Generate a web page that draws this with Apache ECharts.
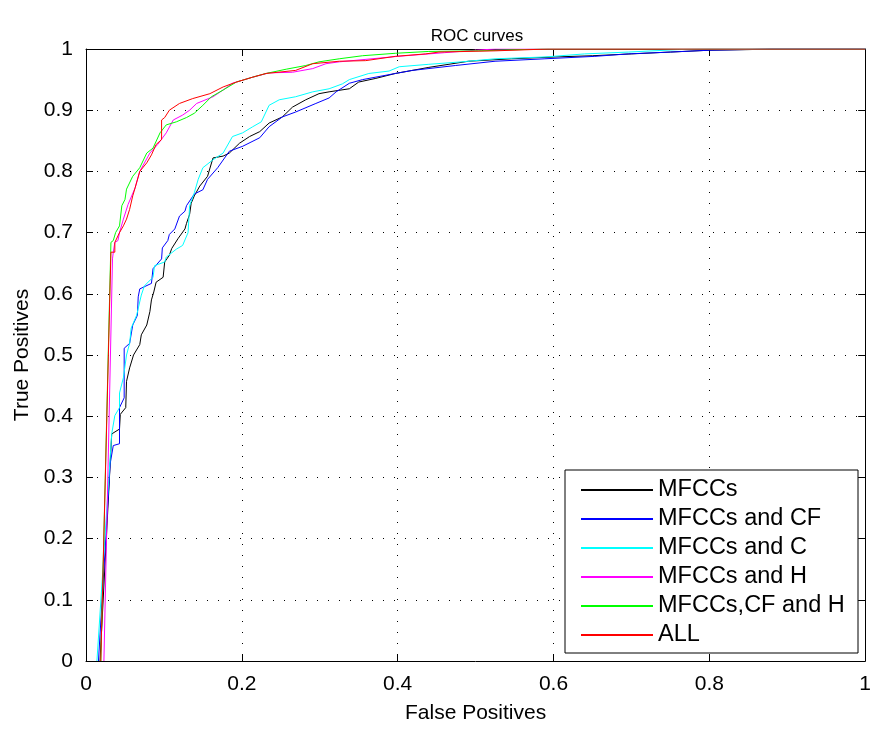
<!DOCTYPE html>
<html>
<head>
<meta charset="utf-8">
<script src="https://cdn.jsdelivr.net/npm/echarts@6/dist/echarts.min.js"></script>
<style>
html,body{margin:0;padding:0;background:#fff;}
#chart{width:874px;height:729px;}
</style>
</head>
<body>
<div id="chart"></div>
<script>
// ---- data ----
const seriesNames = ['MFCCs', 'MFCCs and CF', 'MFCCs and C', 'MFCCs and H', 'MFCCs,CF and H', 'ALL'];
const xTickLabels = ['0', '0.2', '0.4', '0.6', '0.8', '1'];
const yTickLabels = ['0', '0.1', '0.2', '0.3', '0.4', '0.5', '0.6', '0.7', '0.8', '0.9', '1'];

const mfccsFP = [0.018, 0.033, 0.043, 0.044, 0.051, 0.052, 0.056, 0.061, 0.069, 0.071, 0.078, 0.082, 0.084, 0.087, 0.090, 0.099, 0.101, 0.107, 0.110, 0.118, 0.127, 0.129, 0.133, 0.135, 0.139, 0.146, 0.156, 0.163, 0.176, 0.184, 0.197, 0.210, 0.223, 0.235, 0.252, 0.265, 0.282, 0.299, 0.312, 0.338, 0.350, 0.372, 0.397, 0.440, 0.491, 0.546, 0.602, 0.650, 0.700, 0.750, 0.800, 0.850, 0.880, 1.000];
const mfccsTP = [0.000, 0.371, 0.379, 0.403, 0.414, 0.457, 0.479, 0.500, 0.517, 0.533, 0.549, 0.571, 0.590, 0.603, 0.619, 0.627, 0.652, 0.663, 0.674, 0.690, 0.706, 0.715, 0.730, 0.748, 0.760, 0.776, 0.792, 0.822, 0.825, 0.830, 0.846, 0.857, 0.865, 0.879, 0.889, 0.905, 0.917, 0.927, 0.930, 0.935, 0.946, 0.952, 0.960, 0.970, 0.980, 0.984, 0.987, 0.989, 0.992, 0.995, 0.998, 0.999, 1.000, 1.000];

const mfccsCfFP = [0.016, 0.031, 0.035, 0.043, 0.043, 0.049, 0.049, 0.056, 0.060, 0.066, 0.067, 0.069, 0.084, 0.086, 0.097, 0.098, 0.105, 0.107, 0.114, 0.120, 0.127, 0.129, 0.139, 0.150, 0.156, 0.169, 0.184, 0.201, 0.223, 0.235, 0.252, 0.269, 0.295, 0.312, 0.321, 0.338, 0.355, 0.397, 0.419, 0.474, 0.525, 0.589, 0.653, 0.696, 0.750, 0.800, 0.880, 1.000];
const mfccsCfTP = [0.000, 0.322, 0.352, 0.355, 0.414, 0.430, 0.511, 0.519, 0.549, 0.565, 0.595, 0.608, 0.617, 0.641, 0.657, 0.675, 0.687, 0.697, 0.706, 0.727, 0.735, 0.744, 0.763, 0.770, 0.787, 0.806, 0.833, 0.841, 0.855, 0.873, 0.889, 0.897, 0.911, 0.920, 0.930, 0.944, 0.950, 0.960, 0.965, 0.973, 0.980, 0.984, 0.988, 0.992, 0.995, 0.998, 1.000, 1.000];

const mfccsCFP = [0.014, 0.033, 0.037, 0.043, 0.043, 0.048, 0.052, 0.056, 0.058, 0.065, 0.071, 0.075, 0.086, 0.088, 0.090, 0.101, 0.103, 0.116, 0.124, 0.131, 0.133, 0.139, 0.144, 0.150, 0.163, 0.176, 0.188, 0.201, 0.214, 0.225, 0.235, 0.248, 0.269, 0.291, 0.312, 0.329, 0.338, 0.363, 0.389, 0.402, 0.440, 0.482, 0.525, 0.589, 0.640, 0.696, 0.760, 0.800, 1.000];
const mfccsCTP = [0.000, 0.371, 0.401, 0.414, 0.438, 0.463, 0.500, 0.519, 0.544, 0.565, 0.598, 0.613, 0.627, 0.646, 0.649, 0.652, 0.660, 0.673, 0.679, 0.700, 0.744, 0.765, 0.787, 0.806, 0.819, 0.830, 0.857, 0.863, 0.873, 0.881, 0.908, 0.917, 0.922, 0.930, 0.935, 0.943, 0.950, 0.960, 0.964, 0.971, 0.975, 0.979, 0.984, 0.987, 0.992, 0.995, 0.999, 1.000, 1.000];

const mfccsHFP = [0.023, 0.034, 0.035, 0.037, 0.041, 0.043, 0.048, 0.054, 0.063, 0.069, 0.082, 0.092, 0.103, 0.112, 0.124, 0.133, 0.142, 0.163, 0.176, 0.188, 0.214, 0.235, 0.265, 0.291, 0.308, 0.325, 0.400, 0.460, 0.500, 0.525, 1.000];
const mfccsHTP = [0.000, 0.657, 0.668, 0.684, 0.687, 0.700, 0.722, 0.746, 0.773, 0.800, 0.830, 0.844, 0.863, 0.884, 0.892, 0.900, 0.911, 0.922, 0.933, 0.944, 0.954, 0.961, 0.962, 0.968, 0.976, 0.979, 0.988, 0.994, 0.998, 1.000, 1.000];

const mfccsCfHFP = [0.019, 0.032, 0.035, 0.038, 0.043, 0.046, 0.050, 0.052, 0.060, 0.069, 0.078, 0.086, 0.095, 0.103, 0.116, 0.129, 0.139, 0.150, 0.161, 0.176, 0.193, 0.214, 0.231, 0.257, 0.282, 0.299, 0.325, 0.355, 0.397, 0.440, 0.504, 0.585, 1.000];
const mfccsCfHTP = [0.000, 0.684, 0.687, 0.700, 0.711, 0.744, 0.754, 0.771, 0.792, 0.806, 0.830, 0.838, 0.863, 0.876, 0.881, 0.888, 0.895, 0.908, 0.922, 0.933, 0.946, 0.954, 0.960, 0.967, 0.973, 0.979, 0.984, 0.989, 0.993, 0.996, 0.997, 1.000, 1.000];

const allFP = [0.019, 0.032, 0.037, 0.037, 0.043, 0.048, 0.052, 0.056, 0.060, 0.063, 0.069, 0.078, 0.084, 0.090, 0.097, 0.097, 0.101, 0.107, 0.120, 0.137, 0.159, 0.176, 0.193, 0.214, 0.231, 0.269, 0.291, 0.325, 0.359, 0.397, 0.436, 0.453, 0.525, 0.593, 1.000];
const allTP = [0.000, 0.668, 0.668, 0.684, 0.700, 0.711, 0.722, 0.738, 0.760, 0.773, 0.800, 0.814, 0.827, 0.844, 0.852, 0.884, 0.888, 0.900, 0.911, 0.919, 0.927, 0.938, 0.946, 0.954, 0.960, 0.965, 0.976, 0.980, 0.981, 0.988, 0.992, 0.995, 0.997, 1.000, 1.000];

const seriesColors = ['#000000', '#0000ff', '#00ffff', '#ff00ff', '#00ff00', '#ff0000'];
// ------------------------------------------------

const FONT = '"Liberation Sans", Arial, Helvetica, sans-serif';
const pairs = (xs, ys) => xs.map((x, i) => [x, ys[i]]);
const allData = [
  pairs(mfccsFP, mfccsTP),
  pairs(mfccsCfFP, mfccsCfTP),
  pairs(mfccsCFP, mfccsCTP),
  pairs(mfccsHFP, mfccsHTP),
  pairs(mfccsCfHFP, mfccsCfHTP),
  pairs(allFP, allTP)
];

const chart = echarts.init(document.getElementById('chart'), null, {renderer: 'canvas'});

const gridLine = {show: true, lineStyle: {color: '#000', width: 1, type: [1, 10]}};
const axisLine = {show: true, onZero: false, lineStyle: {color: '#000', width: 1}};
const tick = {show: true, inside: true, length: 7, lineStyle: {color: '#000', width: 1}};

const option = {
  animation: false,
  backgroundColor: '#fff',
  title: {
    text: 'ROC curves',
    left: 477,
    top: 28,
    padding: 0,
    textAlign: 'center',
    textStyle: {fontFamily: FONT, fontSize: 17, fontWeight: 'normal', color: '#000'}
  },
  grid: {left: 86, right: 6, top: 49, bottom: 64, containLabel: false},
  legend: {
    orient: 'vertical',
    left: 565,
    top: 470,
    padding: [8, 13, 6, 15],
    itemGap: 5,
    itemWidth: 72,
    itemHeight: 2,
    borderColor: '#000',
    borderWidth: 1,
    backgroundColor: '#fff',
    data: seriesNames,
    textStyle: {fontFamily: FONT, fontSize: 23.5, color: '#000', lineHeight: 23, width: 187, overflow: 'none'}
  },
  xAxis: [
    {
      type: 'value', position: 'bottom', min: 0, max: 1, interval: 0.2,
      name: 'False Positives', nameLocation: 'middle', nameGap: 42,
      nameTextStyle: {fontFamily: FONT, fontSize: 21, color: '#000'},
      axisLine: axisLine, axisTick: tick,
      axisLabel: {fontFamily: FONT, fontSize: 21, color: '#000', margin: 13,
        formatter: v => xTickLabels[Math.round(v / 0.2)]},
      splitLine: gridLine
    },
    {
      type: 'value', position: 'top', min: 0, max: 1, interval: 0.2,
      axisLine: axisLine, axisTick: tick, axisLabel: {show: false}, splitLine: {show: false}
    }
  ],
  yAxis: [
    {
      type: 'value', position: 'left', min: 0, max: 1, interval: 0.1,
      name: 'True Positives', nameLocation: 'middle', nameGap: 53, nameRotate: 90,
      nameTextStyle: {fontFamily: FONT, fontSize: 21, color: '#000'},
      axisLine: axisLine, axisTick: tick,
      axisLabel: {fontFamily: FONT, fontSize: 21, color: '#000', margin: 13,
        formatter: v => yTickLabels[Math.round(v / 0.1)]},
      splitLine: gridLine
    },
    {
      type: 'value', position: 'right', min: 0, max: 1, interval: 0.1,
      axisLine: axisLine, axisTick: tick, axisLabel: {show: false}, splitLine: {show: false}
    }
  ],
  series: seriesNames.map((name, i) => ({
    name: name,
    type: 'line',
    xAxisIndex: 0,
    yAxisIndex: 0,
    data: allData[i],
    symbol: 'none',
    showSymbol: false,
    smooth: false,
    clip: true,
    color: seriesColors[i],
    lineStyle: {color: seriesColors[i], width: 1},
    emphasis: {disabled: true},
    z: 2 + i
  }))
};
chart.setOption(option);
</script>
</body>
</html>
